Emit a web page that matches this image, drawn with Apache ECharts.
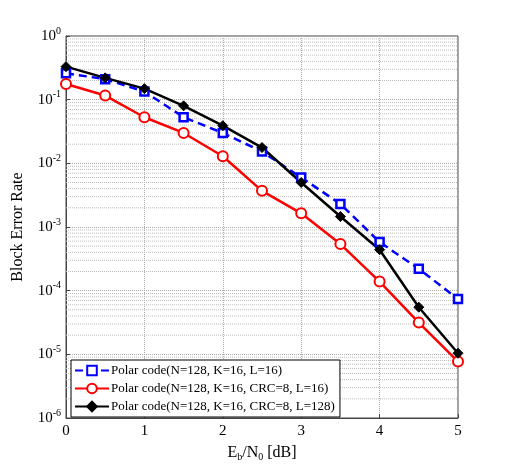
<!DOCTYPE html>
<html><head><meta charset="utf-8">
<script src="https://cdn.jsdelivr.net/npm/echarts@6/dist/echarts.min.js"></script>
<style>html,body{margin:0;padding:0;background:#fff}#c{width:506px;height:471px}</style>
</head><body><div id="c"></div>
<script>
const ebn0 = [0, 0.5, 1, 1.5, 2, 2.5, 3, 3.5, 4, 4.5, 5];
const blerL16 = [0.26, 0.21, 0.134, 0.053, 0.030, 0.0153, 0.0060, 0.0023, 5.8e-4, 2.2e-4, 7.4e-5];
const blerCrcL16 = [0.176, 0.116, 0.053, 0.030, 0.0129, 0.0037, 0.00164, 5.4e-4, 1.39e-4, 3.16e-5, 7.7e-6];
const blerCrcL128 = [0.33, 0.22, 0.149, 0.080, 0.039, 0.0177, 0.0050, 0.00146, 4.4e-4, 5.5e-5, 1.04e-5];
const names = ['Polar code(N=128, K=16, L=16)', 'Polar code(N=128, K=16, CRC=8, L=16)', 'Polar code(N=128, K=16, CRC=8, L=128)'];
const decades = [-6, -5, -4, -3, -2, -1];
const minorMant = [2, 3, 4, 5, 6, 7, 8, 9];
const xRange = [0, 5];

const FONT = '"Liberation Serif", "Times New Roman", serif';
const minorData = [];
decades.forEach(d => minorMant.forEach(m => {
  const v = m * Math.pow(10, d);
  minorData.push([xRange[0], v], [xRange[1], v], [xRange[1], '-']);
}));

const pairs = arr => ebn0.map((x, i) => [x, arr[i]]);
const chart = echarts.init(document.getElementById('c'), null, { renderer: 'canvas' });
chart.setOption({
  animation: false,
  backgroundColor: '#fff',
  grid: { left: 66, top: 36, right: 48, bottom: 53, show: true, borderColor: '#444', borderWidth: 1 },
  xAxis: {
    type: 'value', min: 0, max: 5, interval: 1,
    name: 'E{s|b}/N{s|0} [dB]', nameLocation: 'middle', nameGap: 25,
    nameTextStyle: {
      fontFamily: FONT, fontSize: 16, color: '#000',
      rich: { s: { fontFamily: FONT, fontSize: 10, color: '#000', padding: [9, 0, 0, 0] } }
    },
    axisLine: { lineStyle: { color: '#444' } },
    axisTick: { inside: true, length: 4, lineStyle: { color: '#444' } },
    axisLabel: { fontFamily: FONT, fontSize: 15, color: '#000', margin: 6 },
    splitLine: { show: true, lineStyle: { color: '#aaa', type: 'dotted', width: 1 } }
  },
  yAxis: {
    type: 'log', logBase: 10, min: 1e-6, max: 1,
    name: 'Block Error Rate', nameLocation: 'middle', nameGap: 40,
    nameTextStyle: { fontFamily: FONT, fontSize: 16, color: '#000' },
    axisLine: { lineStyle: { color: '#444' } },
    axisTick: { inside: true, length: 4, lineStyle: { color: '#444' } },
    axisLabel: {
      margin: 5,
      formatter: v => '{b|10}{s|' + Math.round(Math.log10(v)) + '}',
      rich: {
        b: { fontFamily: FONT, fontSize: 15, color: '#000' },
        s: { fontFamily: FONT, fontSize: 10, color: '#000', padding: [0, 0, 10, 0] }
      }
    },
    splitLine: { show: true, lineStyle: { color: '#aaa', type: 'dotted', width: 1 } }
  },
  legend: {
    data: names,
    orient: 'vertical', left: 71, top: 360,
    backgroundColor: '#fff', borderColor: '#000', borderWidth: 1,
    padding: [4, 5, 4, 3], itemGap: 5, itemWidth: 34, itemHeight: 12,
    textStyle: { fontFamily: FONT, fontSize: 13, color: '#000', padding: [0, 0, 0, -3] }
  },
  series: [
    {
      name: 'minor', type: 'line', data: minorData, silent: true, connectNulls: false,
      symbol: 'none', lineStyle: { color: '#bbb', type: 'dotted', width: 1 }, z: 1
    },
    {
      name: names[0], type: 'line', data: pairs(blerL16),
      color: '#0000ff',
      lineStyle: { color: '#0000ff', width: 2.5, type: [8, 5] },
      symbol: 'rect', symbolSize: 8,
      itemStyle: { color: '#fff', borderColor: '#0000ff', borderWidth: 2.5 }
    },
    {
      name: names[1], type: 'line', data: pairs(blerCrcL16),
      color: '#ff0000',
      lineStyle: { color: '#ff0000', width: 2.5 },
      symbol: 'circle', symbolSize: 10,
      itemStyle: { color: '#fff', borderColor: '#ff0000', borderWidth: 2 }
    },
    {
      name: names[2], type: 'line', data: pairs(blerCrcL128),
      color: '#000',
      lineStyle: { color: '#000', width: 2.5 },
      symbol: 'diamond', symbolSize: 10,
      itemStyle: { color: '#000', borderColor: '#000', borderWidth: 1 }
    }
  ]
});
</script></body></html>
